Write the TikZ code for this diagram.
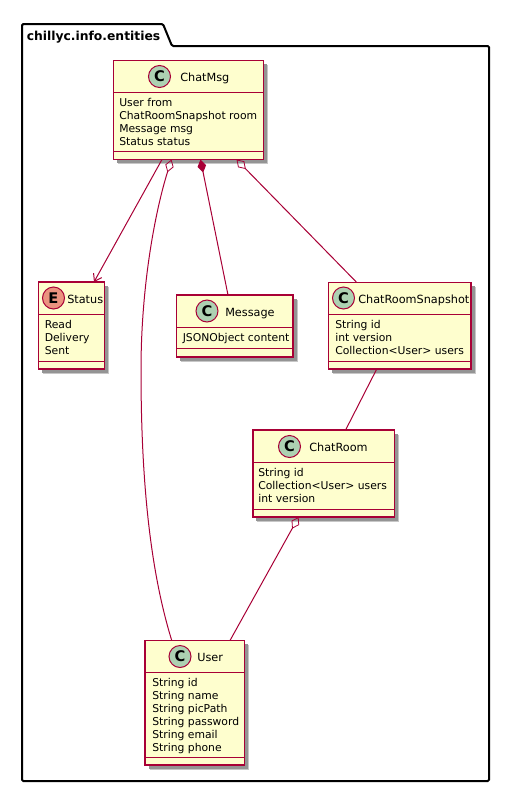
\documentclass[tikz,border=0pt]{standalone}
\usepackage{fontspec}
\setmainfont{DejaVu Sans}
\usetikzlibrary{arrows.meta,shadows}
\definecolor{umlred}{HTML}{A80036}
\definecolor{umlfill}{HTML}{FEFECE}
\definecolor{umlgreen}{HTML}{ADD1B2}
\definecolor{umlsalmon}{HTML}{EB937F}
\tikzset{
	classbox/.style={draw=umlred, fill=umlfill, line width=1.3pt, inner sep=0pt, outer sep=0pt,
		general shadow={shadow xshift=3.6pt, shadow yshift=-3.6pt, fill=black!22, draw=none},
		general shadow={shadow xshift=2.8pt, shadow yshift=-2.8pt, fill=black!42, draw=none}},
	classline/.style={draw=umlred, line width=0.7pt},
	badge/.style={circle, draw=umlred, line width=0.75pt, minimum size=16.5pt, inner sep=0pt, font=\fontsize{11}{11}\selectfont\bfseries},
	title/.style={anchor=base west, inner sep=0pt, font=\fontsize{8.45}{10}\selectfont},
	members/.style={anchor=north west, align=left, inner sep=0pt, font=\fontsize{8.1}{9.75}\selectfont},
	link/.style={draw=umlred, line width=0.75pt},
	aggr/.style={link, {Diamond[open, length=10pt, width=6.5pt, line width=0.6pt]}-},
	comp/.style={link, {Diamond[length=10pt, width=6.5pt]}-},
	arrowto/.style={link, -{Straight Barb[length=5pt, width=7pt, line width=0.75pt]}}
}
\begin{document}
\begin{tikzpicture}[x=0.75pt, y=-0.75pt]
	\useasboundingbox (0,0) rectangle (509,793);
	% package frame
	\draw[line width=1.5pt, rounded corners=1pt] (22,46) -- (22,24) -- (163,24) -- (172,46) -- (489,46) -- (489,781) -- (22,781) -- cycle;
	\node (pkgtitle) at (26.5,40) [anchor=base west, inner sep=0pt, font=\fontsize{9.25}{11}\selectfont\bfseries] {chillyc.info.entities};
	% classes
	\node (chatmsg) at (188.5,110) [classbox, minimum width=112.5pt, minimum height=74.25pt] {};
	\node (status) at (71.5,325.5) [classbox, minimum width=49.5pt, minimum height=65.25pt] {};
	\node (message) at (234.75,326) [classbox, minimum width=87.4pt, minimum height=46.5pt] {};
	\node (snapshot) at (399.75,325.75) [classbox, minimum width=106.9pt, minimum height=64.9pt] {};
	\node (chatroom) at (323.6,473.5) [classbox, minimum width=106.4pt, minimum height=65.25pt] {};
	\node (user) at (194.75,702.75) [classbox, minimum width=74.6pt, minimum height=93.4pt] {};
	% compartments
	\draw[classline] ([shift={(0,32)}]chatmsg.north west) -- ([shift={(0,32)}]chatmsg.north east);
	\draw[classline] ([shift={(0,91)}]chatmsg.north west) -- ([shift={(0,91)}]chatmsg.north east);
	\draw[classline] ([shift={(0,32)}]status.north west) -- ([shift={(0,32)}]status.north east);
	\draw[classline] ([shift={(0,79)}]status.north west) -- ([shift={(0,79)}]status.north east);
	\draw[classline] ([shift={(0,32)}]message.north west) -- ([shift={(0,32)}]message.north east);
	\draw[classline] ([shift={(0,53)}]message.north west) -- ([shift={(0,53)}]message.north east);
	\draw[classline] ([shift={(0,31.5)}]snapshot.north west) -- ([shift={(0,31.5)}]snapshot.north east);
	\draw[classline] ([shift={(0,78.5)}]snapshot.north west) -- ([shift={(0,78.5)}]snapshot.north east);
	\draw[classline] ([shift={(0,32)}]chatroom.north west) -- ([shift={(0,32)}]chatroom.north east);
	\draw[classline] ([shift={(0,79.5)}]chatroom.north west) -- ([shift={(0,79.5)}]chatroom.north east);
	\draw[classline] ([shift={(0,31.5)}]user.north west) -- ([shift={(0,31.5)}]user.north east);
	\draw[classline] ([shift={(0,116.5)}]user.north west) -- ([shift={(0,116.5)}]user.north east);
	% badges
	\node (chatmsgc) at (159.5,76.5) [badge, fill=umlgreen] {C};
	\node (statuse) at (53.5,298) [badge, fill=umlsalmon] {E};
	\node (messagec) at (207,311) [badge, fill=umlgreen] {C};
	\node (snapshotc) at (343.5,298) [badge, fill=umlgreen] {C};
	\node (chatroomc) at (289.5,446.5) [badge, fill=umlgreen] {C};
	\node (userc) at (180,656.5) [badge, fill=umlgreen] {C};
	% names
	\node (chatmsgn) at (180,81) [title] {ChatMsg};
	\node (statusn) at (67,303) [title] {Status};
	\node (messagen) at (225,316) [title] {Message};
	\node (snapshotn) at (358,303) [title] {ChatRoomSnapshot};
	\node (chatroomn) at (309,451) [title] {ChatRoom};
	\node (usern) at (197,661) [title] {User};
	% members
	\node (chatmsgm) at (119,98.5) [members] {User from\\ChatRoomSnapshot room\\Message msg\\Status status};
	\node (statusm) at (44.5,320.5) [members] {Read\\Delivery\\Sent};
	\node (messagem) at (182.5,333.5) [members] {JSONObject content};
	\node (snapshotm) at (335,320.5) [members] {String id\\int version\\Collection<User> users};
	\node (chatroomm) at (258,468.5) [members] {String id\\Collection<User> users\\int version};
	\node (userm) at (152,678.5) [members] {String id\\String name\\String picPath\\String password\\String email\\String phone};
	% connectors
	\draw[arrowto] ([shift={(-26.5,0)}]chatmsg.south) to ([shift={(22.5,0)}]status.north);
	\draw[aggr] ([shift={(-17,0)}]chatmsg.south) .. controls (157,205) and (141,280) .. (141,370) .. controls (141,480) and (150,570) .. ([shift={(-23,0)}]user.north);
	\draw[comp] ([shift={(12,0)}]chatmsg.south) to ([shift={(-6.75,0)}]message.north);
	\draw[aggr] ([shift={(48,0)}]chatmsg.south) to ([shift={(-43,0)}]snapshot.north);
	\draw[link] ([shift={(-23,0)}]snapshot.south) to ([shift={(22,0)}]chatroom.north);
	\draw[aggr] ([shift={(-25,0)}]chatroom.south) to ([shift={(35.25,0)}]user.north);
\end{tikzpicture}
\end{document}
